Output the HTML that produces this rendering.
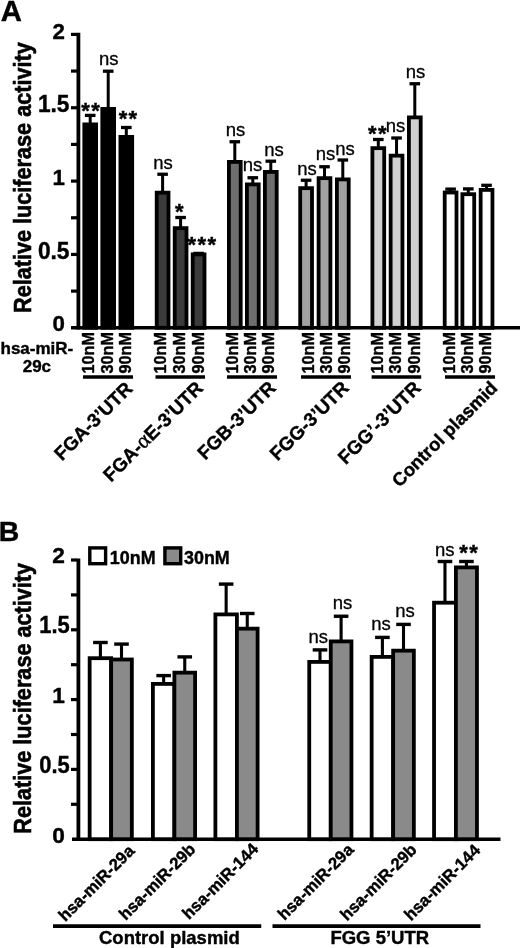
<!DOCTYPE html>
<html lang="en">
<head>
<meta charset="utf-8">
<title>Figure</title>
<style>
html,body{margin:0;padding:0;background:#fff;}
body{width:520px;height:948px;overflow:hidden;}
svg{display:block;}
svg text{font-family:"Liberation Sans",Arial,Helvetica,sans-serif;fill:#000;}
svg text[font-weight="bold"]{stroke:#000;stroke-width:0.4px;}
</style>
</head>
<body>
<svg width="520" height="948" viewBox="0 0 520 948">
<rect x="0" y="0" width="520" height="948" fill="#fff"/>
<text x="0.80" y="20.50" font-size="29.3" font-weight="bold" text-anchor="start" >A</text>
<line x1="78.40" y1="32.80" x2="78.40" y2="329.50" stroke="#000" stroke-width="3.8"/>
<line x1="71.00" y1="327.80" x2="520.00" y2="327.80" stroke="#000" stroke-width="3.5"/>
<line x1="71.00" y1="291.12" x2="77.00" y2="291.12" stroke="#000" stroke-width="3.2"/>
<line x1="71.00" y1="254.45" x2="77.00" y2="254.45" stroke="#000" stroke-width="3.2"/>
<line x1="71.00" y1="217.78" x2="77.00" y2="217.78" stroke="#000" stroke-width="3.2"/>
<line x1="71.00" y1="181.10" x2="77.00" y2="181.10" stroke="#000" stroke-width="3.2"/>
<line x1="71.00" y1="144.42" x2="77.00" y2="144.42" stroke="#000" stroke-width="3.2"/>
<line x1="71.00" y1="107.75" x2="77.00" y2="107.75" stroke="#000" stroke-width="3.2"/>
<line x1="71.00" y1="71.07" x2="77.00" y2="71.07" stroke="#000" stroke-width="3.2"/>
<line x1="71.00" y1="34.40" x2="77.00" y2="34.40" stroke="#000" stroke-width="3.2"/>
<text x="0" y="0" font-size="22.3" font-weight="bold" text-anchor="end" transform="translate(65.00 38.60) scale(1.0 1)" >2</text>
<text x="0" y="0" font-size="23.3" font-weight="bold" text-anchor="end" transform="translate(69.50 111.95) scale(0.975 1)" >1.5</text>
<text x="0" y="0" font-size="22.3" font-weight="bold" text-anchor="end" transform="translate(65.00 185.30) scale(1.0 1)" >1</text>
<text x="0" y="0" font-size="23.3" font-weight="bold" text-anchor="end" transform="translate(69.50 258.65) scale(0.975 1)" >0.5</text>
<text x="0" y="0" font-size="22.3" font-weight="bold" text-anchor="end" transform="translate(65.00 331.10) scale(1.0 1)" >0</text>
<text x="0" y="0" font-size="23.0" font-weight="bold" text-anchor="start" transform="translate(31.10 313.00) rotate(-90) scale(0.942 1)" style="stroke-width:0.6px">Relative luciferase activity</text>
<line x1="90.20" y1="115.40" x2="90.20" y2="123.50" stroke="#000" stroke-width="3.0"/>
<line x1="84.90" y1="115.40" x2="95.50" y2="115.40" stroke="#000" stroke-width="3.3"/>
<rect x="84.30" y="124.40" width="11.80" height="203.40" fill="#000000" stroke="#000" stroke-width="3.8"/>
<text x="0" y="0" font-size="16.2" font-weight="bold" text-anchor="start" transform="translate(94.30 373.40) rotate(-90)" >10nM</text>
<line x1="108.20" y1="71.20" x2="108.20" y2="108.00" stroke="#000" stroke-width="3.0"/>
<line x1="102.90" y1="71.20" x2="113.50" y2="71.20" stroke="#000" stroke-width="3.3"/>
<rect x="102.30" y="108.90" width="11.80" height="218.90" fill="#000000" stroke="#000" stroke-width="3.8"/>
<text x="0" y="0" font-size="16.2" font-weight="bold" text-anchor="start" transform="translate(112.60 373.40) rotate(-90)" >30nM</text>
<line x1="126.30" y1="127.50" x2="126.30" y2="136.00" stroke="#000" stroke-width="3.0"/>
<line x1="121.00" y1="127.50" x2="131.60" y2="127.50" stroke="#000" stroke-width="3.3"/>
<rect x="120.40" y="136.90" width="11.80" height="190.90" fill="#000000" stroke="#000" stroke-width="3.8"/>
<text x="0" y="0" font-size="16.2" font-weight="bold" text-anchor="start" transform="translate(130.90 373.40) rotate(-90)" >90nM</text>
<line x1="83.00" y1="376.90" x2="133.00" y2="376.90" stroke="#000" stroke-width="3.5"/>
<text x="0" y="0" font-size="19" font-weight="bold" text-anchor="end" transform="translate(133.60 389.80) rotate(-45)" >FGA-3’UTR</text>
<line x1="162.60" y1="174.25" x2="162.60" y2="191.75" stroke="#000" stroke-width="3.0"/>
<line x1="157.30" y1="174.25" x2="167.90" y2="174.25" stroke="#000" stroke-width="3.3"/>
<rect x="156.70" y="192.65" width="11.80" height="135.15" fill="#3b3b3b" stroke="#000" stroke-width="3.8"/>
<text x="0" y="0" font-size="16.2" font-weight="bold" text-anchor="start" transform="translate(166.30 373.40) rotate(-90)" >10nM</text>
<line x1="180.60" y1="217.50" x2="180.60" y2="227.25" stroke="#000" stroke-width="3.0"/>
<line x1="175.30" y1="217.50" x2="185.90" y2="217.50" stroke="#000" stroke-width="3.3"/>
<rect x="174.70" y="228.15" width="11.80" height="99.65" fill="#3b3b3b" stroke="#000" stroke-width="3.8"/>
<text x="0" y="0" font-size="16.2" font-weight="bold" text-anchor="start" transform="translate(185.10 373.40) rotate(-90)" >30nM</text>
<line x1="198.60" y1="253.40" x2="198.60" y2="253.50" stroke="#000" stroke-width="3.0"/>
<line x1="193.30" y1="253.40" x2="203.90" y2="253.40" stroke="#000" stroke-width="3.3"/>
<rect x="192.70" y="254.40" width="11.80" height="73.40" fill="#3b3b3b" stroke="#000" stroke-width="3.8"/>
<text x="0" y="0" font-size="16.2" font-weight="bold" text-anchor="start" transform="translate(203.90 373.40) rotate(-90)" >90nM</text>
<line x1="155.50" y1="376.90" x2="205.00" y2="376.90" stroke="#000" stroke-width="3.5"/>
<text x="0" y="0" font-size="19" font-weight="bold" text-anchor="end" transform="translate(204.20 389.40) rotate(-45)" >FGA-<tspan font-weight="normal" font-family="Liberation Serif, DejaVu Serif, serif" font-size="22">α</tspan>E-3’UTR</text>
<line x1="234.80" y1="141.75" x2="234.80" y2="161.00" stroke="#000" stroke-width="3.0"/>
<line x1="229.50" y1="141.75" x2="240.10" y2="141.75" stroke="#000" stroke-width="3.3"/>
<rect x="228.90" y="161.90" width="11.80" height="165.90" fill="#6e6e6e" stroke="#000" stroke-width="3.8"/>
<text x="0" y="0" font-size="16.2" font-weight="bold" text-anchor="start" transform="translate(238.00 373.40) rotate(-90)" >10nM</text>
<line x1="252.80" y1="177.75" x2="252.80" y2="183.50" stroke="#000" stroke-width="3.0"/>
<line x1="247.50" y1="177.75" x2="258.10" y2="177.75" stroke="#000" stroke-width="3.3"/>
<rect x="246.90" y="184.40" width="11.80" height="143.40" fill="#6e6e6e" stroke="#000" stroke-width="3.8"/>
<text x="0" y="0" font-size="16.2" font-weight="bold" text-anchor="start" transform="translate(256.20 373.40) rotate(-90)" >30nM</text>
<line x1="270.80" y1="161.20" x2="270.80" y2="171.00" stroke="#000" stroke-width="3.0"/>
<line x1="265.50" y1="161.20" x2="276.10" y2="161.20" stroke="#000" stroke-width="3.3"/>
<rect x="264.90" y="171.90" width="11.80" height="155.90" fill="#6e6e6e" stroke="#000" stroke-width="3.8"/>
<text x="0" y="0" font-size="16.2" font-weight="bold" text-anchor="start" transform="translate(274.40 373.40) rotate(-90)" >90nM</text>
<line x1="227.00" y1="376.90" x2="277.00" y2="376.90" stroke="#000" stroke-width="3.5"/>
<text x="0" y="0" font-size="19" font-weight="bold" text-anchor="end" transform="translate(277.00 389.00) rotate(-45)" >FGB-3’UTR</text>
<line x1="306.10" y1="180.25" x2="306.10" y2="187.25" stroke="#000" stroke-width="3.0"/>
<line x1="300.80" y1="180.25" x2="311.40" y2="180.25" stroke="#000" stroke-width="3.3"/>
<rect x="300.20" y="188.15" width="11.80" height="139.65" fill="#a2a2a2" stroke="#000" stroke-width="3.8"/>
<text x="0" y="0" font-size="16.2" font-weight="bold" text-anchor="start" transform="translate(314.20 373.40) rotate(-90)" >10nM</text>
<line x1="324.50" y1="166.75" x2="324.50" y2="177.25" stroke="#000" stroke-width="3.0"/>
<line x1="319.20" y1="166.75" x2="329.80" y2="166.75" stroke="#000" stroke-width="3.3"/>
<rect x="318.60" y="178.15" width="11.80" height="149.65" fill="#a2a2a2" stroke="#000" stroke-width="3.8"/>
<text x="0" y="0" font-size="16.2" font-weight="bold" text-anchor="start" transform="translate(332.10 373.40) rotate(-90)" >30nM</text>
<line x1="342.80" y1="160.00" x2="342.80" y2="178.50" stroke="#000" stroke-width="3.0"/>
<line x1="337.50" y1="160.00" x2="348.10" y2="160.00" stroke="#000" stroke-width="3.3"/>
<rect x="336.90" y="179.40" width="11.80" height="148.40" fill="#a2a2a2" stroke="#000" stroke-width="3.8"/>
<text x="0" y="0" font-size="16.2" font-weight="bold" text-anchor="start" transform="translate(350.00 373.40) rotate(-90)" >90nM</text>
<line x1="301.00" y1="376.90" x2="351.00" y2="376.90" stroke="#000" stroke-width="3.5"/>
<text x="0" y="0" font-size="19" font-weight="bold" text-anchor="end" transform="translate(350.00 389.00) rotate(-45)" >FGG-3’UTR</text>
<line x1="378.30" y1="139.50" x2="378.30" y2="147.25" stroke="#000" stroke-width="3.0"/>
<line x1="373.00" y1="139.50" x2="383.60" y2="139.50" stroke="#000" stroke-width="3.3"/>
<rect x="372.40" y="148.15" width="11.80" height="179.65" fill="#d0d0d0" stroke="#000" stroke-width="3.8"/>
<text x="0" y="0" font-size="16.2" font-weight="bold" text-anchor="start" transform="translate(382.60 373.40) rotate(-90)" >10nM</text>
<line x1="396.55" y1="138.00" x2="396.55" y2="154.75" stroke="#000" stroke-width="3.0"/>
<line x1="391.25" y1="138.00" x2="401.85" y2="138.00" stroke="#000" stroke-width="3.3"/>
<rect x="390.65" y="155.65" width="11.80" height="172.15" fill="#d0d0d0" stroke="#000" stroke-width="3.8"/>
<text x="0" y="0" font-size="16.2" font-weight="bold" text-anchor="start" transform="translate(401.20 373.40) rotate(-90)" >30nM</text>
<line x1="414.80" y1="83.75" x2="414.80" y2="116.50" stroke="#000" stroke-width="3.0"/>
<line x1="409.50" y1="83.75" x2="420.10" y2="83.75" stroke="#000" stroke-width="3.3"/>
<rect x="408.90" y="117.40" width="11.80" height="210.40" fill="#d0d0d0" stroke="#000" stroke-width="3.8"/>
<text x="0" y="0" font-size="16.2" font-weight="bold" text-anchor="start" transform="translate(419.80 373.40) rotate(-90)" >90nM</text>
<line x1="371.60" y1="376.90" x2="421.20" y2="376.90" stroke="#000" stroke-width="3.5"/>
<text x="0" y="0" font-size="19" font-weight="bold" text-anchor="end" transform="translate(422.00 389.00) rotate(-45)" >FGG’-3’UTR</text>
<line x1="450.60" y1="189.10" x2="450.60" y2="191.60" stroke="#000" stroke-width="3.0"/>
<line x1="445.30" y1="189.10" x2="455.90" y2="189.10" stroke="#000" stroke-width="3.3"/>
<rect x="444.70" y="192.50" width="11.80" height="135.30" fill="#ffffff" stroke="#000" stroke-width="3.8"/>
<text x="0" y="0" font-size="16.2" font-weight="bold" text-anchor="start" transform="translate(454.90 373.40) rotate(-90)" >10nM</text>
<line x1="468.30" y1="188.90" x2="468.30" y2="193.30" stroke="#000" stroke-width="3.0"/>
<line x1="463.00" y1="188.90" x2="473.60" y2="188.90" stroke="#000" stroke-width="3.3"/>
<rect x="462.40" y="194.20" width="11.80" height="133.60" fill="#ffffff" stroke="#000" stroke-width="3.8"/>
<text x="0" y="0" font-size="16.2" font-weight="bold" text-anchor="start" transform="translate(472.90 373.40) rotate(-90)" >30nM</text>
<line x1="486.55" y1="185.30" x2="486.55" y2="189.00" stroke="#000" stroke-width="3.0"/>
<line x1="481.25" y1="185.30" x2="491.85" y2="185.30" stroke="#000" stroke-width="3.3"/>
<rect x="480.65" y="189.90" width="11.80" height="137.90" fill="#ffffff" stroke="#000" stroke-width="3.8"/>
<text x="0" y="0" font-size="16.2" font-weight="bold" text-anchor="start" transform="translate(490.90 373.40) rotate(-90)" >90nM</text>
<line x1="445.00" y1="376.90" x2="495.00" y2="376.90" stroke="#000" stroke-width="3.5"/>
<text x="0" y="0" font-size="18.4" font-weight="bold" text-anchor="end" transform="translate(498.50 389.00) rotate(-45)" >Control plasmid</text>
<text x="91.30" y="118.22" font-size="22" font-weight="bold" text-anchor="middle" letter-spacing="1.4">**</text>
<text x="108.75" y="65.25" font-size="18.5" font-weight="normal" text-anchor="middle" stroke="#000" stroke-width="0.3">ns</text>
<text x="128.60" y="125.72" font-size="22" font-weight="bold" text-anchor="middle" letter-spacing="1.4">**</text>
<text x="163.00" y="168.50" font-size="18.5" font-weight="normal" text-anchor="middle" stroke="#000" stroke-width="0.3">ns</text>
<text x="179.95" y="218.72" font-size="22" font-weight="bold" text-anchor="middle" letter-spacing="1.4">*</text>
<text x="202.45" y="252.47" font-size="22" font-weight="bold" text-anchor="middle" letter-spacing="1.4">***</text>
<text x="235.50" y="136.25" font-size="18.5" font-weight="normal" text-anchor="middle" stroke="#000" stroke-width="0.3">ns</text>
<text x="252.40" y="171.00" font-size="18.5" font-weight="normal" text-anchor="middle" stroke="#000" stroke-width="0.3">ns</text>
<text x="273.90" y="155.75" font-size="18.5" font-weight="normal" text-anchor="middle" stroke="#000" stroke-width="0.3">ns</text>
<text x="307.00" y="175.00" font-size="18.5" font-weight="normal" text-anchor="middle" stroke="#000" stroke-width="0.3">ns</text>
<text x="325.50" y="160.25" font-size="18.5" font-weight="normal" text-anchor="middle" stroke="#000" stroke-width="0.3">ns</text>
<text x="345.10" y="154.75" font-size="18.5" font-weight="normal" text-anchor="middle" stroke="#000" stroke-width="0.3">ns</text>
<text x="377.95" y="140.72" font-size="22" font-weight="bold" text-anchor="middle" letter-spacing="1.4">**</text>
<text x="395.50" y="132.00" font-size="18.5" font-weight="normal" text-anchor="middle" stroke="#000" stroke-width="0.3">ns</text>
<text x="415.50" y="77.75" font-size="18.5" font-weight="normal" text-anchor="middle" stroke="#000" stroke-width="0.3">ns</text>
<text x="36.90" y="353.75" font-size="17" font-weight="bold" text-anchor="middle" >hsa-miR-</text>
<text x="36.90" y="372.00" font-size="17" font-weight="bold" text-anchor="middle" >29c</text>
<text x="-1.20" y="541.40" font-size="28.4" font-weight="bold" text-anchor="start" >B</text>
<line x1="78.40" y1="558.40" x2="78.40" y2="840.90" stroke="#000" stroke-width="3.8"/>
<line x1="72.00" y1="839.20" x2="500.50" y2="839.20" stroke="#000" stroke-width="3.5"/>
<line x1="71.00" y1="804.30" x2="77.00" y2="804.30" stroke="#000" stroke-width="3.2"/>
<line x1="71.00" y1="769.40" x2="77.00" y2="769.40" stroke="#000" stroke-width="3.2"/>
<line x1="71.00" y1="734.50" x2="77.00" y2="734.50" stroke="#000" stroke-width="3.2"/>
<line x1="71.00" y1="699.60" x2="77.00" y2="699.60" stroke="#000" stroke-width="3.2"/>
<line x1="71.00" y1="664.70" x2="77.00" y2="664.70" stroke="#000" stroke-width="3.2"/>
<line x1="71.00" y1="629.80" x2="77.00" y2="629.80" stroke="#000" stroke-width="3.2"/>
<line x1="71.00" y1="594.90" x2="77.00" y2="594.90" stroke="#000" stroke-width="3.2"/>
<line x1="71.00" y1="560.00" x2="77.00" y2="560.00" stroke="#000" stroke-width="3.2"/>
<text x="0" y="0" font-size="22.0" font-weight="bold" text-anchor="end" transform="translate(64.80 563.40) scale(1.03 1)" >2</text>
<text x="0" y="0" font-size="23.6" font-weight="bold" text-anchor="end" transform="translate(69.70 633.20) scale(0.93 1)" >1.5</text>
<text x="0" y="0" font-size="22.0" font-weight="bold" text-anchor="end" transform="translate(64.80 703.00) scale(1.03 1)" >1</text>
<text x="0" y="0" font-size="23.6" font-weight="bold" text-anchor="end" transform="translate(69.70 772.80) scale(0.93 1)" >0.5</text>
<text x="0" y="0" font-size="22.0" font-weight="bold" text-anchor="end" transform="translate(64.80 842.60) scale(1.03 1)" >0</text>
<text x="0" y="0" font-size="23.0" font-weight="bold" text-anchor="start" transform="translate(31.10 833.70) rotate(-90) scale(0.942 1)" style="stroke-width:0.6px">Relative luciferase activity</text>
<rect x="89.80" y="547.90" width="15.80" height="15.80" fill="#fff" stroke="#000" stroke-width="3.4"/>
<text x="109.80" y="564.40" font-size="17.9" font-weight="bold" text-anchor="start" >10nM</text>
<rect x="164.90" y="547.90" width="15.80" height="15.80" fill="#8a8a8a" stroke="#000" stroke-width="3.4"/>
<text x="184.00" y="564.40" font-size="17.9" font-weight="bold" text-anchor="start" >30nM</text>
<line x1="100.40" y1="642.50" x2="100.40" y2="657.30" stroke="#000" stroke-width="3.1"/>
<line x1="93.10" y1="642.50" x2="107.70" y2="642.50" stroke="#000" stroke-width="3.4"/>
<line x1="121.50" y1="644.10" x2="121.50" y2="658.60" stroke="#000" stroke-width="3.1"/>
<line x1="114.20" y1="644.10" x2="128.80" y2="644.10" stroke="#000" stroke-width="3.4"/>
<rect x="89.65" y="658.20" width="21.50" height="181.00" fill="#fff" stroke="#000" stroke-width="3.8"/>
<rect x="111.15" y="659.50" width="20.70" height="179.70" fill="#8a8a8a" stroke="#000" stroke-width="3.8"/>
<text x="0" y="0" font-size="16.7" font-weight="bold" text-anchor="end" transform="translate(135.50 852.00) rotate(-45)" >hsa-miR-29a</text>
<line x1="163.65" y1="675.60" x2="163.65" y2="683.00" stroke="#000" stroke-width="3.1"/>
<line x1="156.35" y1="675.60" x2="170.95" y2="675.60" stroke="#000" stroke-width="3.4"/>
<line x1="184.75" y1="656.90" x2="184.75" y2="671.75" stroke="#000" stroke-width="3.1"/>
<line x1="177.45" y1="656.90" x2="192.05" y2="656.90" stroke="#000" stroke-width="3.4"/>
<rect x="152.90" y="683.90" width="21.50" height="155.30" fill="#fff" stroke="#000" stroke-width="3.8"/>
<rect x="174.40" y="672.65" width="20.70" height="166.55" fill="#8a8a8a" stroke="#000" stroke-width="3.8"/>
<text x="0" y="0" font-size="16.7" font-weight="bold" text-anchor="end" transform="translate(196.50 850.25) rotate(-45)" >hsa-miR-29b</text>
<line x1="226.15" y1="584.10" x2="226.15" y2="613.50" stroke="#000" stroke-width="3.1"/>
<line x1="218.85" y1="584.10" x2="233.45" y2="584.10" stroke="#000" stroke-width="3.4"/>
<line x1="247.25" y1="613.50" x2="247.25" y2="627.75" stroke="#000" stroke-width="3.1"/>
<line x1="239.95" y1="613.50" x2="254.55" y2="613.50" stroke="#000" stroke-width="3.4"/>
<rect x="215.40" y="614.40" width="21.50" height="224.80" fill="#fff" stroke="#000" stroke-width="3.8"/>
<rect x="236.90" y="628.65" width="20.70" height="210.55" fill="#8a8a8a" stroke="#000" stroke-width="3.8"/>
<text x="0" y="0" font-size="16.7" font-weight="bold" text-anchor="end" transform="translate(259.30 850.00) rotate(-45)" >hsa-miR-144</text>
<line x1="320.00" y1="649.90" x2="320.00" y2="661.00" stroke="#000" stroke-width="3.1"/>
<line x1="312.70" y1="649.90" x2="327.30" y2="649.90" stroke="#000" stroke-width="3.4"/>
<line x1="341.10" y1="616.25" x2="341.10" y2="640.50" stroke="#000" stroke-width="3.1"/>
<line x1="333.80" y1="616.25" x2="348.40" y2="616.25" stroke="#000" stroke-width="3.4"/>
<rect x="309.25" y="661.90" width="21.50" height="177.30" fill="#fff" stroke="#000" stroke-width="3.8"/>
<rect x="330.75" y="641.40" width="20.70" height="197.80" fill="#8a8a8a" stroke="#000" stroke-width="3.8"/>
<text x="0" y="0" font-size="16.7" font-weight="bold" text-anchor="end" transform="translate(354.75 850.75) rotate(-45)" >hsa-miR-29a</text>
<line x1="382.40" y1="637.40" x2="382.40" y2="656.00" stroke="#000" stroke-width="3.1"/>
<line x1="375.10" y1="637.40" x2="389.70" y2="637.40" stroke="#000" stroke-width="3.4"/>
<line x1="403.50" y1="624.40" x2="403.50" y2="649.75" stroke="#000" stroke-width="3.1"/>
<line x1="396.20" y1="624.40" x2="410.80" y2="624.40" stroke="#000" stroke-width="3.4"/>
<rect x="371.65" y="656.90" width="21.50" height="182.30" fill="#fff" stroke="#000" stroke-width="3.8"/>
<rect x="393.15" y="650.65" width="20.70" height="188.55" fill="#8a8a8a" stroke="#000" stroke-width="3.8"/>
<text x="0" y="0" font-size="16.7" font-weight="bold" text-anchor="end" transform="translate(417.75 850.75) rotate(-45)" >hsa-miR-29b</text>
<line x1="444.97" y1="561.50" x2="444.97" y2="601.80" stroke="#000" stroke-width="3.1"/>
<line x1="437.67" y1="561.50" x2="452.27" y2="561.50" stroke="#000" stroke-width="3.4"/>
<line x1="466.42" y1="561.50" x2="466.42" y2="566.50" stroke="#000" stroke-width="3.1"/>
<line x1="459.12" y1="561.50" x2="473.72" y2="561.50" stroke="#000" stroke-width="3.4"/>
<rect x="434.05" y="602.70" width="21.85" height="236.50" fill="#fff" stroke="#000" stroke-width="3.8"/>
<rect x="455.90" y="567.40" width="21.05" height="271.80" fill="#8a8a8a" stroke="#000" stroke-width="3.8"/>
<text x="0" y="0" font-size="16.7" font-weight="bold" text-anchor="end" transform="translate(481.25 851.25) rotate(-45)" >hsa-miR-144</text>
<text x="318.20" y="643.25" font-size="18.5" font-weight="normal" text-anchor="middle" stroke="#000" stroke-width="0.3">ns</text>
<text x="342.40" y="609.00" font-size="18.5" font-weight="normal" text-anchor="middle" stroke="#000" stroke-width="0.3">ns</text>
<text x="381.10" y="629.50" font-size="18.5" font-weight="normal" text-anchor="middle" stroke="#000" stroke-width="0.3">ns</text>
<text x="405.00" y="617.00" font-size="18.5" font-weight="normal" text-anchor="middle" stroke="#000" stroke-width="0.3">ns</text>
<text x="444.70" y="555.70" font-size="18.5" font-weight="normal" text-anchor="middle" stroke="#000" stroke-width="0.3">ns</text>
<text x="469.30" y="559.77" font-size="22" font-weight="bold" text-anchor="middle" letter-spacing="1.4">**</text>
<line x1="53.00" y1="926.10" x2="261.25" y2="926.10" stroke="#000" stroke-width="3.6"/>
<line x1="272.50" y1="926.10" x2="480.50" y2="926.10" stroke="#000" stroke-width="3.6"/>
<text x="169.40" y="944.20" font-size="18.5" font-weight="bold" text-anchor="middle" >Control plasmid</text>
<text x="379.75" y="944.20" font-size="18.5" font-weight="bold" text-anchor="middle" >FGG 5’UTR</text>
</svg>
</body>
</html>
